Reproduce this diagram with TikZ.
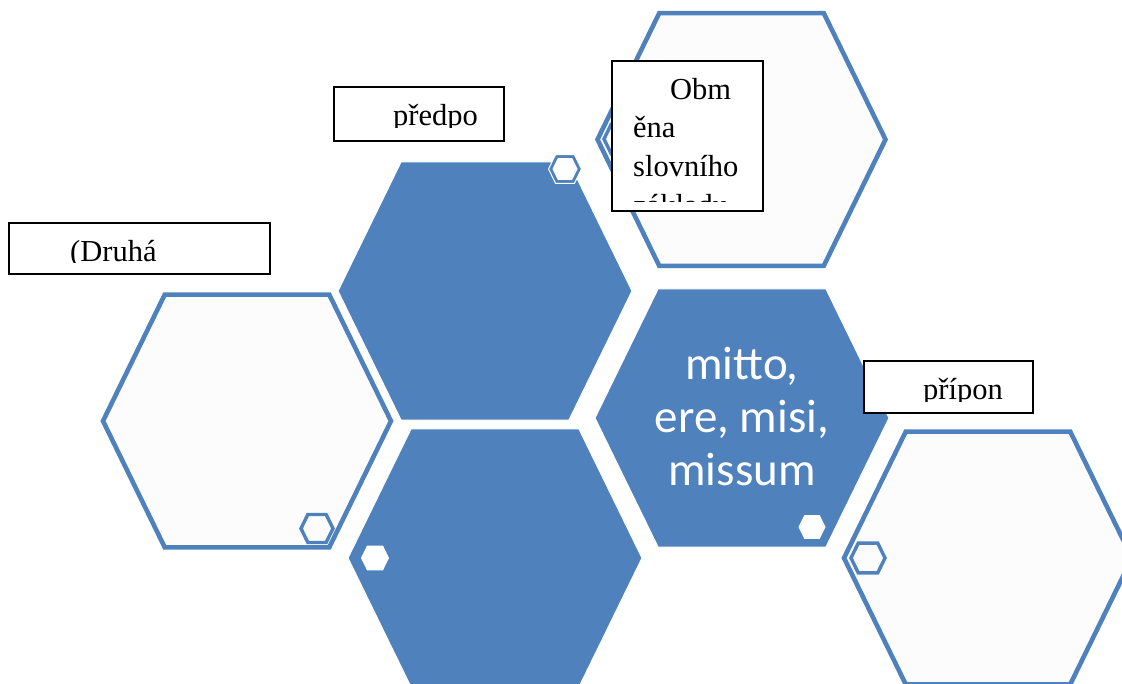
\documentclass[tikz,border=0pt]{standalone}
\usepackage{fontspec}
\setmainfont{Liberation Serif}
\newfontfamily\calibfont{Carlito}
\definecolor{hexblue}{RGB}{79,129,189}
\definecolor{hexpale}{RGB}{252,252,252}
\tikzset{
  pics/hexu/.style={code={\path[pic actions] (-1,0) -- (-0.571,-0.878) -- (0.571,-0.878) -- (1,0) -- (0.571,0.878) -- (-0.571,0.878) -- cycle;}},
  hexfill/.style={fill=hexblue, draw=white, line width=1pt},
  hexline/.style={draw=hexblue, fill=hexpale, line width=4.6pt},
  accline/.style={draw=hexblue, fill=hexpale, line width=3.4pt},
  accwhite/.style={fill=white},
  tbox/.style={draw=black, fill=white, line width=1.6pt, inner sep=0pt},
  btext/.style={font=\fontsize{30.5}{36}\selectfont, anchor=base west, inner sep=0pt, text=black},
  mtext/.style={font=\calibfont\fontsize{47}{53}\selectfont, align=center, text=white, inner sep=0pt},
}
\begin{document}
\begin{tikzpicture}[x=1pt,y=-1pt]
\useasboundingbox (0,0) rectangle (1122,684);
\clip (0,0) rectangle (1122,684);
% big outlined hexagons
\pic[hexline, scale=144] at (741.5,139.5) {hexu};
\pic[hexline, scale=144] at (247,421) {hexu};
\pic[hexline, scale=144] at (988,558) {hexu};
% big filled hexagons
\pic[hexfill, scale=147] at (485,291) {hexu};
\pic[hexfill, scale=147] at (495,558) {hexu};
\pic[hexfill, scale=147] at (742,418) {hexu};
% accent hexagons
\pic[accline, scale=17] at (621,139) {hexu};
\pic[fill=hexblue, draw=white, line width=1pt, scale=16.5] at (565,169) {hexu};
\pic[accwhite, scale=12.5] at (565,169) {hexu};
\pic[accline, scale=16] at (317,528.5) {hexu};
\pic[accwhite, scale=14] at (375,558) {hexu};
\pic[accwhite, scale=13.5] at (812,527) {hexu};
\pic[accline, scale=17] at (868,558) {hexu};
% central text
\node[mtext] (mitto) at (742,417) {mitto,\\ere, misi,\\missum};
% text boxes
\node[tbox, minimum width=170pt, minimum height=54pt] (b1) at (419,114) {};
\node[tbox, minimum width=151pt, minimum height=150pt] (b2) at (687.5,136) {};
\node[tbox, minimum width=261pt, minimum height=51pt] (b3) at (139.5,248.5) {};
\node[tbox, minimum width=169pt, minimum height=52pt] (b4) at (948.5,387) {};
\begin{scope}
\clip (334,87) rectangle (504,128);
\node[btext] (t1) at (393,125.5) {předpo};
\end{scope}
\begin{scope}
\clip (612,61) rectangle (763,202);
\node[btext] (t2a) at (670,100) {Obm};
\node[btext] (t2b) at (633,138) {ěna};
\node[btext] (t2c) at (633,177) {slovního};
\node[btext] (t2d) at (633,216) {základu};
\end{scope}
\begin{scope}
\clip (9,223) rectangle (270,263);
\node[btext] (t3) at (70,262) {(Druhá};
\end{scope}
\begin{scope}
\clip (864,361) rectangle (1033,402);
\node[btext] (t4) at (923,400) {přípon};
\end{scope}
\end{tikzpicture}
\end{document}
